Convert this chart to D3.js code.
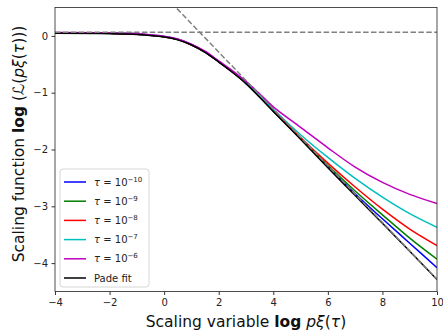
<!DOCTYPE html>
<html>
<head>
<meta charset="utf-8">
<script src="https://cdn.jsdelivr.net/npm/d3@7"></script>
<style>
  body { margin: 0; background: #fff; }
  svg { font-family: "DejaVu Sans", sans-serif; }
</style>
</head>
<body>
<svg id="plot" width="443" height="335"></svg>
<script>
// values
var xs = [-4, -2, -1, 0, 0.5, 1, 1.5, 2, 2.5, 3, 3.5, 4, 5, 6, 7, 8, 9, 10];
var tau10 = [0.05, 0.045, 0.03, -0.015, -0.065, -0.155, -0.285, -0.455, -0.635, -0.835, -1.075, -1.32, -1.81, -2.3, -2.78, -3.22, -3.65, -4.08];
var tau9  = [0.05, 0.045, 0.03, -0.015, -0.065, -0.155, -0.285, -0.455, -0.635, -0.835, -1.07, -1.32, -1.8, -2.28, -2.73, -3.15, -3.56, -3.93];
var tau8  = [0.05, 0.045, 0.03, -0.015, -0.065, -0.155, -0.285, -0.455, -0.635, -0.83, -1.065, -1.31, -1.79, -2.24, -2.66, -3.05, -3.40, -3.69];
var tau7  = [0.055, 0.05, 0.035, -0.01, -0.06, -0.15, -0.28, -0.45, -0.625, -0.82, -1.05, -1.29, -1.74, -2.14, -2.51, -2.84, -3.13, -3.37];
var tau6  = [0.06, 0.055, 0.04, -0.005, -0.055, -0.145, -0.27, -0.44, -0.61, -0.8, -1.02, -1.25, -1.61, -1.97, -2.31, -2.58, -2.79, -2.95];
var pade  = [0.045, 0.04, 0.025, -0.02, -0.07, -0.16, -0.29, -0.46, -0.64, -0.84, -1.08, -1.33, -1.82, -2.32, -2.81, -3.3, -3.79, -4.29];

var exps = ["-10", "-9", "-8", "-7", "-6"];
var colors = ["#0000ff", "#008000", "#ff0000", "#00bfbf", "#bf00bf"];
var series = [tau10, tau9, tau8, tau7, tau6];

// guide lines: plateau level and slope -1/2 line (two ends each)
var plateauY = 0.065;
var slopeX = [0.47, 10];
var slopeY = [0.48, -4.285];

var xTicks = [-4, -2, 0, 2, 4, 6, 8, 10];
var yTicks = [-4, -3, -2, -1, 0];

var svg = d3.select("#plot");
var margin = {top: 7.5, right: 6, bottom: 43.5, left: 55};
var width = 443 - margin.left - margin.right;
var height = 335 - margin.top - margin.bottom;

var g = svg.append("g")
    .attr("transform", "translate(" + margin.left + "," + margin.top + ")");

var x = d3.scaleLinear().domain([-4, 10]).range([0, width]);
var y = d3.scaleLinear().domain([-4.5, 0.5]).range([height, 0]);

g.append("defs").append("clipPath").attr("id", "clip")
    .append("rect").attr("width", width).attr("height", height);

var line = d3.line()
    .x(function(d) { return x(d[0]); })
    .y(function(d) { return y(d[1]); })
    .curve(d3.curveCatmullRom.alpha(0.5));

var plot = g.append("g").attr("clip-path", "url(#clip)");

series.forEach(function(s, i) {
    plot.append("path")
        .datum(xs.map(function(v, j) { return [v, s[j]]; }))
        .attr("fill", "none")
        .attr("stroke", colors[i])
        .attr("stroke-width", 1.5)
        .attr("d", line);
});

plot.append("path")
    .datum(xs.map(function(v, j) { return [v, pade[j]]; }))
    .attr("fill", "none")
    .attr("stroke", "#000")
    .attr("stroke-width", 1.5)
    .attr("d", line);

plot.append("line")
    .attr("x1", x(-4)).attr("x2", x(10))
    .attr("y1", y(plateauY)).attr("y2", y(plateauY))
    .attr("stroke", "#808080").attr("stroke-width", 1.5)
    .attr("stroke-dasharray", "5.5,2.4");

plot.append("line")
    .attr("x1", x(slopeX[0])).attr("x2", x(slopeX[1]))
    .attr("y1", y(slopeY[0])).attr("y2", y(slopeY[1]))
    .attr("stroke", "#808080").attr("stroke-width", 1.5)
    .attr("stroke-dasharray", "5.5,2.4");

// axes
var fmt = function(d) { return d < 0 ? "\u2212" + Math.abs(d) : d; };
var xAxis = g.append("g")
    .attr("transform", "translate(0," + height + ")")
    .call(d3.axisBottom(x).tickValues(xTicks).tickSize(3.5).tickPadding(3.5).tickFormat(fmt));
var yAxis = g.append("g")
    .call(d3.axisLeft(y).tickValues(yTicks).tickSize(3.5).tickPadding(3.5).tickFormat(fmt));

[xAxis, yAxis].forEach(function(a) {
    a.select(".domain").remove();
    a.selectAll("text").style("font-family", "DejaVu Sans").style("font-size", "10px").attr("fill", "#222");
    a.selectAll("line").attr("stroke", "#000").attr("stroke-width", 0.8);
});

g.append("rect")
    .attr("width", width).attr("height", height)
    .attr("fill", "none").attr("stroke", "#222").attr("stroke-width", 0.8);

// axis labels
var xl = svg.append("text")
    .attr("x", margin.left + width / 2)
    .attr("y", 327)
    .attr("text-anchor", "middle")
    .style("font-size", "15.5px")
    .attr("fill", "#111");
xl.append("tspan").text("Scaling variable ");
xl.append("tspan").style("font-weight", "bold").text("log");
xl.append("tspan").text(" ");
xl.append("tspan").style("font-style", "italic").text("p\u03be");
xl.append("tspan").text("(");
xl.append("tspan").style("font-style", "italic").text("\u03c4");
xl.append("tspan").text(")");

var yl = svg.append("text")
    .attr("transform", "translate(24,144) rotate(-90)")
    .attr("text-anchor", "middle")
    .style("font-size", "15.5px")
    .attr("fill", "#111");
yl.append("tspan").text("Scaling function ");
yl.append("tspan").style("font-weight", "bold").text("log");
yl.append("tspan").text(" (");
yl.append("tspan").style("font-style", "italic").text("\u2112");
yl.append("tspan").text("(");
yl.append("tspan").style("font-style", "italic").text("p\u03be");
yl.append("tspan").text("(");
yl.append("tspan").style("font-style", "italic").text("\u03c4");
yl.append("tspan").text(")))");

// legend
var lg = svg.append("g").attr("transform", "translate(60,169)");
lg.append("rect")
    .attr("width", 89).attr("height", 118)
    .attr("rx", 3).attr("ry", 3)
    .attr("fill", "#fff").attr("fill-opacity", 0.8)
    .attr("stroke", "#ccc").attr("stroke-width", 0.8);

var labels = exps.map(function(e, i) { return {exp: e, color: colors[i]}; });
labels.push({exp: null, color: "#000"});

labels.forEach(function(d, i) {
    var yy = 13 + i * 19.2;
    lg.append("line")
        .attr("x1", 4).attr("x2", 26)
        .attr("y1", yy).attr("y2", yy)
        .attr("stroke", d.color).attr("stroke-width", 1.5);
    var t = lg.append("text")
        .attr("x", 34).attr("y", yy + 3.5)
        .style("font-size", "10px")
        .attr("fill", "#222");
    if (d.exp === null) {
        t.text("Pade fit");
    } else {
        t.append("tspan").style("font-style", "italic").text("\u03c4");
        t.append("tspan").text(" = 10");
        t.append("tspan").attr("dy", -4).style("font-size", "7px").text("\u2212" + d.exp.slice(1));
    }
});
</script>
</body>
</html>
